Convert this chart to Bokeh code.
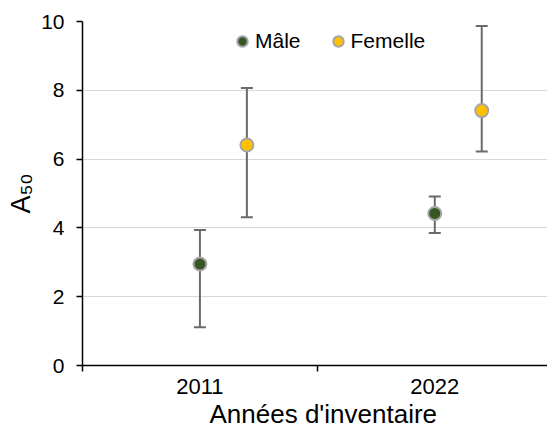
from bokeh.plotting import figure
from bokeh.models import (ColumnDataSource, Range1d, FixedTicker, Whisker, TeeHead,
                          Legend, LegendItem, Title)
from bokeh.transform import dodge
from bokeh.embed import file_html
from bokeh.resources import INLINE

# ---- data ----
categories = ["2011", "2022"]
male_a50 = [2.95, 4.42]
male_lower = [1.11, 3.85]
male_upper = [3.94, 4.91]
female_a50 = [6.41, 7.41]
female_lower = [4.31, 6.22]
female_upper = [8.07, 9.87]
y_ticks = [0, 2, 4, 6, 8, 10]
series_names = ["Mâle", "Femelle"]
x_title = "Années d'inventaire"
y_title = "A₅₀"

FONT = "Liberation Sans"
MALE_COLOR = "#375623"
FEMALE_COLOR = "#FFC000"
OUTLINE = "#a6a6a6"
ERR_COLOR = "#6b6b6b"

pos = [i + 0.5 for i in range(len(categories))]
boundaries = [float(i) for i in range(len(categories) + 1)]

male_src = ColumnDataSource(dict(pos=pos, y=male_a50, lower=male_lower, upper=male_upper))
female_src = ColumnDataSource(dict(pos=pos, y=female_a50, lower=female_lower, upper=female_upper))

p = figure(width=547, height=432, output_backend="svg", toolbar_location=None,
           x_range=Range1d(0, 1.98), y_range=Range1d(0, 10),
           min_border_left=82, min_border_right=0, min_border_top=21, min_border_bottom=67)
p.outline_line_color = None
p.background_fill_color = "white"
p.border_fill_color = "white"

# y axis
p.yaxis.ticker = FixedTicker(ticks=y_ticks)
p.yaxis.major_tick_out = 6
p.yaxis.major_tick_in = 0
p.yaxis.minor_tick_line_color = None
p.yaxis.axis_line_width = 1.5
p.yaxis.major_tick_line_width = 1.5
p.yaxis.axis_line_color = "black"
p.yaxis.major_tick_line_color = "black"
p.yaxis.major_label_text_font = FONT
p.yaxis.major_label_text_font_size = "21px"
p.yaxis.major_label_text_color = "black"
p.yaxis.major_label_standoff = 12
p.yaxis.axis_label = y_title
p.yaxis.axis_label_text_font = FONT
p.yaxis.axis_label_text_font_size = "27px"
p.yaxis.axis_label_text_font_style = "normal"
p.yaxis.axis_label_text_color = "black"
p.yaxis.axis_label_standoff = 2

# x axis
p.xaxis.ticker = FixedTicker(ticks=pos, minor_ticks=boundaries)
p.xaxis.major_label_overrides = {k: v for k, v in zip(pos, categories)}
p.xaxis.major_tick_line_color = None
p.xaxis.major_tick_out = 6
p.xaxis.major_tick_in = 0
p.xaxis.minor_tick_out = 6
p.xaxis.minor_tick_in = 0
p.xaxis.minor_tick_line_color = "black"
p.xaxis.minor_tick_line_width = 1.5
p.xaxis.axis_line_width = 1.5
p.xaxis.axis_line_color = "black"
p.xaxis.major_label_text_font = FONT
p.xaxis.major_label_text_font_size = "22px"
p.xaxis.major_label_text_color = "black"
p.xaxis.major_label_standoff = 7

p.add_layout(Title(text=x_title, align="left", offset=127, text_font=FONT,
                   text_font_size="26px", text_font_style="normal",
                   text_color="black", standoff=0), "below")

# grid
p.xgrid.visible = False
p.ygrid.ticker = FixedTicker(ticks=y_ticks)
p.ygrid.grid_line_color = "#d9d9d9"
p.ygrid.grid_line_width = 1

# error bars
for src, base in [(male_src, "pos"), (female_src, dodge("pos", 0.2))]:
    w = Whisker(source=src, base=base, upper="upper", lower="lower",
                line_color=ERR_COLOR, line_width=2,
                upper_head=TeeHead(size=12, line_color=ERR_COLOR, line_width=2),
                lower_head=TeeHead(size=12, line_color=ERR_COLOR, line_width=2))
    p.add_layout(w)

# points
rm = p.scatter("pos", "y", source=male_src, size=13, fill_color=MALE_COLOR,
               line_color=OUTLINE, line_width=2)
rf = p.scatter(dodge("pos", 0.2), "y", source=female_src, size=13, fill_color=FEMALE_COLOR,
               line_color=OUTLINE, line_width=2)

legend = Legend(items=[LegendItem(label=series_names[0], renderers=[rm]),
                       LegendItem(label=series_names[1], renderers=[rf])],
                orientation="horizontal", location=(147, 310),
                glyph_width=26, glyph_height=28, label_height=28, label_standoff=0,
                spacing=24, padding=0, margin=0, border_line_color=None,
                background_fill_alpha=0, label_text_font=FONT,
                label_text_font_size="21px", label_text_color="black")
p.add_layout(legend)

open("out.html", "w").write(file_html(p, INLINE))
